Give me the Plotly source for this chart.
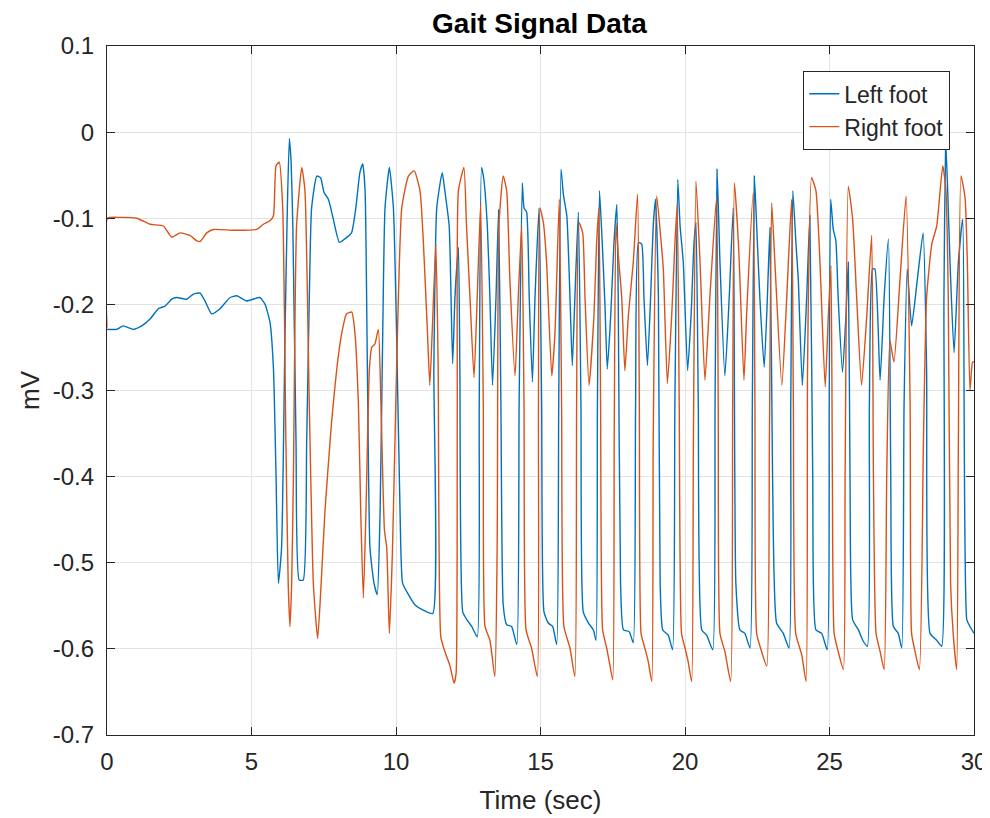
import plotly.graph_objects as go

# ---- Left foot (blue) : time (s) and signal (mV) ----
left_t = [0.0, 0.33, 0.56, 0.91, 1.20, 1.49, 1.78, 2.01, 2.24, 2.41, 2.76, 2.99, 3.22, 3.39, 3.62, 3.91,
          4.26, 4.49, 4.83, 5.29, 5.47, 5.64, 5.76, 5.85, 5.93,
          6.04, 6.16, 6.24, 6.31, 6.37, 6.43, 6.54, 6.65, 6.79, 6.91, 7.0, 7.08, 7.26, 7.39, 7.51, 7.66,
          7.83, 8.04, 8.23, 8.46, 8.61, 8.75, 8.85, 8.93, 9.01, 9.1, 9.24, 9.35, 9.45, 9.54, 9.62, 9.77,
          9.91, 10.02, 10.14, 10.23, 10.43, 10.66, 10.94, 11.27, 11.31, 11.41, 11.6,
          11.69, 11.84, 11.96, 12.04, 12.16, 12.21, 12.31, 12.45, 12.62, 12.81, 12.88, 12.96,
          13.04, 13.16, 13.25, 13.34, 13.46, 13.55, 13.63, 13.71, 13.83, 14.0, 14.18, 14.26, 14.37,
          14.43, 14.52, 14.61, 14.72, 14.81, 14.95, 15.04, 15.12, 15.27, 15.42, 15.56, 15.63, 15.71,
          15.79, 15.91, 16.02, 16.1, 16.19, 16.31, 16.4, 16.48, 16.66, 16.83, 16.92,
          16.97, 17.04, 17.12, 17.23, 17.31, 17.43, 17.54, 17.64, 17.69, 17.77, 17.87, 18.07, 18.21,
          18.29, 18.39, 18.5, 18.58, 18.7, 18.81, 18.9, 18.98, 19.08, 19.14, 19.23, 19.42, 19.57,
          19.65, 19.75, 19.83, 19.94, 20.09, 20.21, 20.31, 20.38, 20.46, 20.58, 20.75, 20.96,
          21.04, 21.11, 21.21, 21.38, 21.53, 21.67, 21.76, 21.9, 22.07, 22.25, 22.33, 22.4,
          22.48, 22.59, 22.74, 22.85, 22.94, 23.03, 23.17, 23.4, 23.6, 23.66, 23.73,
          23.84, 23.92, 24.06, 24.21, 24.32, 24.42, 24.53, 24.73, 24.92, 24.99, 25.04,
          25.13, 25.22, 25.3, 25.45, 25.57, 25.65, 25.71, 25.8, 26.0, 26.15, 26.31, 26.38, 26.49,
          26.57, 26.75, 26.89, 27.04, 27.12, 27.21, 27.38, 27.5, 27.58, 27.69, 27.84, 28.04, 28.24,
          28.36, 28.48, 28.71, 28.88, 28.96, 29.02, 29.09, 29.17, 29.31, 29.46, 29.61, 29.75,
          29.86, 30.0]
left_v = [-0.229, -0.229, -0.225, -0.229, -0.225, -0.217, -0.205, -0.202, -0.194, -0.192, -0.194,
          -0.188, -0.187, -0.196, -0.211, -0.205, -0.192, -0.19, -0.196, -0.192, -0.2, -0.221,
          -0.275, -0.4, -0.524,
          -0.483, -0.234, -0.088, -0.0075, -0.034, -0.109, -0.358, -0.52, -0.52, -0.358, -0.192,
          -0.088, -0.051, -0.053, -0.07, -0.078,
          -0.101, -0.128, -0.124, -0.117, -0.088, -0.047, -0.037, -0.068, -0.275, -0.483, -0.524,
          -0.537, -0.441, -0.234, -0.088, -0.041,
          -0.088, -0.234, -0.441, -0.524, -0.537, -0.549, -0.555, -0.559, -0.275, -0.088, -0.047,
          -0.068, -0.109, -0.269, -0.192, -0.134, -0.275, -0.557, -0.566, -0.574, -0.586, -0.317,
          -0.041,
          -0.055, -0.109, -0.192, -0.294, -0.192, -0.09, -0.317, -0.549, -0.572, -0.574, -0.595,
          -0.317, -0.059,
          -0.088, -0.093, -0.192, -0.29, -0.192, -0.088, -0.317, -0.557, -0.57, -0.574, -0.595,
          -0.317, -0.043,
          -0.072, -0.097, -0.192, -0.271, -0.192, -0.093, -0.317, -0.557, -0.57, -0.578, -0.59,
          -0.317, -0.068, -0.117, -0.2, -0.275, -0.213, -0.13, -0.084, -0.192, -0.524, -0.578,
          -0.58, -0.593,
          -0.317, -0.128, -0.13, -0.192, -0.271, -0.192, -0.109, -0.078, -0.192, -0.524, -0.578,
          -0.584, -0.601,
          -0.317, -0.055, -0.109, -0.151, -0.277, -0.213, -0.13, -0.105, -0.317, -0.578, -0.584,
          -0.601,
          -0.317, -0.043, -0.151, -0.283, -0.192, -0.088, -0.524, -0.578, -0.582, -0.599, -0.317,
          -0.051,
          -0.109, -0.192, -0.273, -0.192, -0.111, -0.4, -0.57, -0.582, -0.599, -0.317, -0.068,
          -0.13, -0.171, -0.294, -0.192, -0.097, -0.4, -0.578, -0.582, -0.601, -0.317, -0.078,
          -0.113, -0.126, -0.192, -0.279, -0.213, -0.151, -0.4, -0.566, -0.578, -0.59, -0.597,
          -0.317, -0.159,
          -0.159, -0.288, -0.192, -0.124, -0.4, -0.574, -0.582, -0.599, -0.317, -0.159, -0.225,
          -0.171, -0.117,
          -0.275, -0.582, -0.59, -0.597, -0.192, -0.01, -0.068, -0.151, -0.256, -0.151, -0.101,
          -0.566, -0.574, -0.582]

# ---- Right foot (orange) ----
right_t = [0.0, 0.02, 0.45, 1.03, 1.49, 1.95, 2.24, 2.53, 2.87, 3.1, 3.22, 3.45, 3.68, 4.37, 5.18,
           5.41, 5.64, 5.76, 5.85, 5.96, 6.08, 6.19, 6.27, 6.33, 6.39, 6.45, 6.56, 6.74, 6.85, 7.0,
           7.14, 7.29, 7.41, 7.54, 7.77, 7.95, 8.12, 8.29, 8.47, 8.58, 8.7, 8.78, 8.87, 8.96, 9.08,
           9.16, 9.27, 9.39, 9.48, 9.6, 9.68, 9.77, 9.88, 10.02, 10.2, 10.43, 10.63, 10.83, 10.95,
           11.09, 11.17, 11.25, 11.38, 11.46, 11.55, 11.69, 11.87, 12.01, 12.08, 12.12, 12.16,
           12.35, 12.44, 12.56, 12.7, 12.81, 12.93, 13.02, 13.08, 13.25, 13.42, 13.5, 13.56, 13.71,
           13.83, 13.94, 14.12, 14.23, 14.35, 14.43, 14.5, 14.69, 14.89, 14.93, 14.98, 15.1, 15.21,
           15.39, 15.5, 15.65, 15.73, 15.81, 16.02, 16.19, 16.25, 16.33, 16.46, 16.54, 16.68,
           16.85, 16.94, 17.02, 17.08, 17.15, 17.29, 17.38, 17.5, 17.55, 17.61, 17.69, 17.81, 17.92,
           18.04, 18.21, 18.36, 18.42, 18.48, 18.61, 18.73, 18.85, 18.9, 19.02, 19.16, 19.25, 19.39,
           19.54, 19.65, 19.73, 19.8, 19.88, 20.0, 20.11, 20.23, 20.29, 20.38, 20.52, 20.69, 20.86,
           21.09, 21.15, 21.21, 21.38, 21.58, 21.65, 21.71, 21.85, 21.9, 22.04, 22.13, 22.36, 22.42,
           22.48, 22.65, 22.83, 22.92, 23.0, 23.11, 23.35, 23.52, 23.69, 23.75, 23.83, 24.04, 24.19,
           24.24, 24.38, 24.53, 24.67, 24.85, 24.96, 25.05, 25.1, 25.16, 25.3, 25.48, 25.54, 25.65,
           25.8, 25.94, 26.11, 26.29, 26.46, 26.52, 26.61, 26.75, 26.89, 26.98, 27.09, 27.23, 27.44,
           27.65, 27.79, 27.84, 27.96, 28.11, 28.25, 28.36, 28.54, 28.71, 28.92, 29.03, 29.11, 29.19,
           29.28, 29.4, 29.46, 29.55, 29.69, 29.77, 29.86, 29.95, 30.0]
right_v = [-0.227, -0.1, -0.099, -0.1, -0.107, -0.109, -0.122, -0.117, -0.12, -0.126, -0.127, -0.117,
           -0.113, -0.114, -0.113, -0.107, -0.103, -0.097, -0.039, -0.035, -0.088, -0.358, -0.524,
           -0.574, -0.524, -0.4, -0.109, -0.041, -0.068, -0.317, -0.524, -0.588, -0.524, -0.441,
           -0.337, -0.275, -0.234, -0.211, -0.209, -0.234, -0.317, -0.441, -0.541, -0.441, -0.275,
           -0.25, -0.246, -0.229, -0.317, -0.462, -0.483, -0.582, -0.483, -0.275, -0.088, -0.051,
           -0.045, -0.068, -0.13, -0.234, -0.294, -0.234, -0.13, -0.275, -0.586, -0.603, -0.62,
           -0.64, -0.628, -0.317, -0.068, -0.041, -0.109, -0.192, -0.285, -0.192, -0.082, -0.317,
           -0.574, -0.59, -0.632, -0.483, -0.109, -0.051, -0.068, -0.171, -0.283, -0.192, -0.109,
           -0.317, -0.578, -0.599, -0.632, -0.317, -0.088, -0.105, -0.151, -0.283, -0.234, -0.078,
           -0.317, -0.574, -0.599, -0.632, -0.317, -0.105, -0.117, -0.192, -0.294,
           -0.213, -0.13, -0.088, -0.317, -0.578, -0.599, -0.615, -0.636, -0.358, -0.105, -0.142,
           -0.192, -0.277, -0.213, -0.151, -0.072, -0.317, -0.582, -0.599, -0.615, -0.638, -0.358,
           -0.074, -0.122, -0.159, -0.292, -0.213, -0.13, -0.084, -0.317, -0.582, -0.599, -0.615,
           -0.638, -0.358, -0.057, -0.151, -0.288, -0.192, -0.076, -0.317, -0.582, -0.603, -0.638,
           -0.317, -0.059, -0.13, -0.171, -0.288, -0.213, -0.07, -0.317, -0.582, -0.603, -0.62,
           -0.358, -0.082, -0.151, -0.294, -0.192, -0.078, -0.317, -0.582, -0.607, -0.638, -0.275,
           -0.053, -0.068, -0.151, -0.296, -0.213, -0.155, -0.4, -0.582, -0.603, -0.624, -0.4,
           -0.063, -0.101, -0.192, -0.294, -0.213, -0.12, -0.4, -0.582, -0.603, -0.624, -0.4,
           -0.242, -0.267, -0.171, -0.074, -0.317, -0.582, -0.603, -0.624, -0.358, -0.192, -0.13,
           -0.109, -0.039, -0.068, -0.192, -0.524, -0.582, -0.624, -0.358, -0.051, -0.076, -0.151,
           -0.3, -0.267, -0.267]

x_ticks = [0, 5, 10, 15, 20, 25, 30]
y_ticks = [0.1, 0, -0.1, -0.2, -0.3, -0.4, -0.5, -0.6, -0.7]
y_tick_text = ["0.1", "0", "-0.1", "-0.2", "-0.3", "-0.4", "-0.5", "-0.6", "-0.7"]

BLUE = "#0072BD"
ORANGE = "#D95319"
AX = "#262626"
FONT = "Liberation Sans, Arial, sans-serif"

fig = go.Figure()
fig.add_trace(go.Scatter(x=left_t, y=left_v, mode="lines", name="Left foot",
                         line=dict(color=BLUE, width=1.4, shape="spline", smoothing=0.5)))
fig.add_trace(go.Scatter(x=right_t, y=right_v, mode="lines", name="Right foot",
                         line=dict(color=ORANGE, width=1.4, shape="spline", smoothing=0.5)))

axis_common = dict(showline=True, linecolor=AX, linewidth=1.3, mirror="ticks",
                   ticks="inside", ticklen=8, tickcolor=AX, tickwidth=1,
                   showgrid=True, gridcolor="#e3e3e3", gridwidth=1, zeroline=False,
                   automargin=False,
                   tickfont=dict(family=FONT, size=24, color=AX))

fig.update_xaxes(range=[0, 30], tickvals=x_ticks, ticklabelstandoff=5,
                 title=dict(text="Time (sec)", font=dict(family=FONT, size=26, color=AX), standoff=16),
                 **axis_common)
fig.update_yaxes(range=[-0.7, 0.1], tickvals=y_ticks, ticktext=y_tick_text, ticklabelstandoff=7,
                 title=dict(text="mV", font=dict(family=FONT, size=26, color=AX), standoff=5),
                 **axis_common)

# the page body adds an 8 px offset, so the figure is 8 px smaller and margins shifted
fig.update_layout(
    width=982, height=810,
    margin=dict(l=99, r=16, t=38, b=83),
    paper_bgcolor="white", plot_bgcolor="white",
    title=dict(text="<b>Gait Signal Data</b>", x=0.5412, xanchor="center", y=0.9815, yanchor="middle",
               font=dict(family=FONT, size=28, color="#000000")),
    legend=dict(x=0.9723, y=0.9637, xanchor="right", yanchor="top",
                bgcolor="white", bordercolor=AX, borderwidth=1.3,
                font=dict(family=FONT, size=23, color=AX),
                tracegroupgap=0),
    showlegend=True,
)

fig.write_html("out.html")
